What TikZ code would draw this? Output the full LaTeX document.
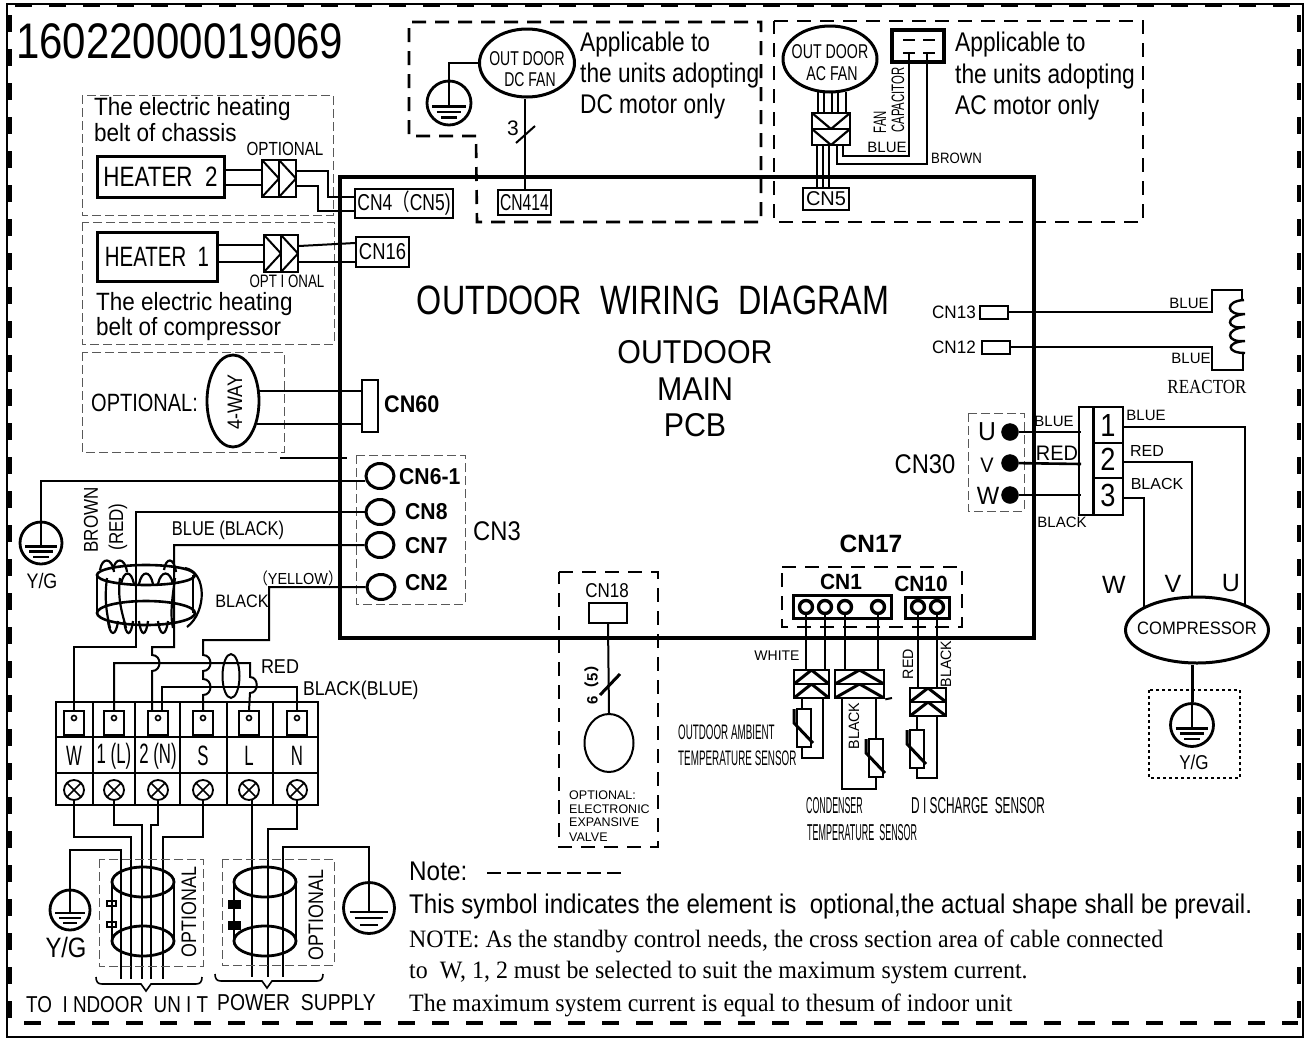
\documentclass[tikz,border=0pt]{standalone}
\usepackage{fontspec}
\usepackage{graphicx}
\setmainfont{Liberation Sans}
\newfontfamily\serifnote{Liberation Serif}
\newfontfamily\cjk{Noto Sans CJK SC}
\usetikzlibrary{shapes.geometric,calc}

\newcommand{\nar}[2]{\scalebox{#1}[1]{#2}}
\newcommand{\fs}[1]{\fontsize{#1}{#1}\selectfont}

\tikzset{
    wire/.style={line width=2pt},
    heavy/.style={line width=3pt},
    pcb/.style={line width=3.4pt},
    thindash/.style={line width=.9pt,gray!70!black,dash pattern=on 9pt off 4pt},
    boldash/.style={line width=2.6pt,dash pattern=on 14pt off 9pt},
    txt/.style={inner sep=0pt,anchor=center},
    cnbox/.style={draw,line width=2pt,inner sep=0pt,minimum height=24pt},
    socket/.style={draw,ellipse,line width=3pt,minimum width=28pt,minimum height=25pt,inner sep=0pt},
    phase/.style={draw,circle,fill=black,minimum size=17pt,inner sep=0pt},
    termlug/.style={draw,line width=2pt,minimum width=20pt,minimum height=24pt,inner sep=0pt},
    earthring/.style={draw,circle,line width=2.8pt,inner sep=0pt},
    pinhole/.style={draw,fill=white,circle,line width=3.4pt,minimum size=13pt,inner sep=0pt},
    screwnode/.style={draw,circle,line width=1.8pt,minimum size=20pt,inner sep=0pt,path picture={
        \draw[line width=1.6pt] (path picture bounding box.south west)--(path picture bounding box.north east);
        \draw[line width=1.6pt] (path picture bounding box.north west)--(path picture bounding box.south east);}},
    plugright/.style={draw,line width=2pt,inner sep=0pt,minimum width=17pt,path picture={
        \draw[line width=2pt] (path picture bounding box.north west)--(path picture bounding box.east)--(path picture bounding box.south west);}},
    plugdown/.style={draw,line width=2.4pt,inner sep=0pt,path picture={
        \draw[line width=2.2pt] (path picture bounding box.north west)--(path picture bounding box.south)--(path picture bounding box.north east);}},
    plugup/.style={draw,line width=2.6pt,inner sep=0pt,path picture={
        \draw[line width=3pt] (path picture bounding box.south west)--(path picture bounding box.north)--(path picture bounding box.south east);}}
}

% earth symbol: ring with stem and three bars
\newcommand{\earth}[3]{%
    \node[earthring,minimum size=#3pt] (#1) at (#2) {};
    \draw[wire] (#1.north) -- ($(#1.center)+(0,.08*#3)$);
    \draw[line width=2.4pt] ($(#1.center)+(-.38*#3,.08*#3)$) -- ($(#1.center)+(.38*#3,.08*#3)$);
    \draw[line width=2.4pt] ($(#1.center)+(-.28*#3,.2*#3)$) -- ($(#1.center)+(.28*#3,.2*#3)$);
    \draw[line width=2.4pt] ($(#1.center)+(-.18*#3,.33*#3)$) -- ($(#1.center)+(.18*#3,.33*#3)$);
}
% thermistor
\newcommand{\therm}[3]{%
    \node[draw,line width=2.4pt,fill=white,minimum width=14pt,minimum height=38pt,inner sep=0pt] (#1) at (#2,#3) {};
    \draw[line width=3pt] (#2-10,#3-19) -- ++(0,14) -- (#2+9,#3+15);
}

\begin{document}
\begin{tikzpicture}[x=1pt,y=-1pt]
    \useasboundingbox (0,0) rectangle (1307,1039);

    % frame
    \draw[line width=2.2pt] (7,4) -- (1303,4) -- (1303,1037) -- (7,1037) -- cycle;
    \draw[line width=4pt,dash pattern=on 17pt off 17pt] (10,15) -- (10,1030);
    \draw[line width=4pt,dash pattern=on 17pt off 17pt] (1299,15) -- (1299,1030);
    \draw[line width=3pt,dash pattern=on 17pt off 17pt] (15,5) -- (1299,5);
    \draw[line width=4pt,dash pattern=on 17pt off 17pt] (24,1023) -- (1298,1023);

    \node[txt,anchor=west] (partno) at (16,41) {\fs{50}\nar{.84}{16022000019069}};

    % main board
    \draw[pcb] (340,177) -- (1034,177) -- (1034,638) -- (340,638) -- cycle;
    \node[txt] (title) at (653,300) {\fs{41}\nar{.788}{OUTDOOR\ \ WIRING\ \ DIAGRAM}};
    \node[txt] (mainA) at (695,352) {\fs{33}\nar{.92}{OUTDOOR}};
    \node[txt] (mainB) at (695,389) {\fs{33}\nar{.92}{MAIN}};
    \node[txt] (mainC) at (695,425) {\fs{33}\nar{.92}{PCB}};

    % dc fan
    \draw[boldash] (476,136) -- (409,136) -- (409,22) -- (761,22) -- (761,222) -- (477,222) -- cycle;
    \node[draw,ellipse,heavy,minimum width=95pt,minimum height=68pt,inner sep=0pt] (dcfan) at (527,63) {};
    \node[txt] (dcfanA) at (527,59) {\fs{20}\nar{.7}{OUT DOOR}};
    \node[txt] (dcfanB) at (530,80) {\fs{20}\nar{.7}{DC FAN}};
    \earth{dcearth}{449,103}{44}
    \draw[wire] (dcearth.north) |- (dcfan.west);
    \node[cnbox,minimum width=53pt,minimum height=25pt] (cn414) at (524.5,202.5) {\fs{23}\nar{.68}{CN414}};
    \draw[wire] (cn414.north) -- (cn414.north |- dcfan.south);
    \draw[wire] (516,143) -- (535,126);
    \node[txt] (dccount) at (513,128) {\fs{21}3};
    \node[txt,anchor=west] (dcnoteA) at (580,45) {\fs{27}\nar{.84}{Applicable to}};
    \node[txt,anchor=west] (dcnoteB) at (580,76) {\fs{27}\nar{.84}{the units adopting}};
    \node[txt,anchor=west] (dcnoteC) at (580,107) {\fs{27}\nar{.84}{DC motor only}};

    % ac fan
    \draw[boldash] (774,21) -- (1143,21) -- (1143,222) -- (774,222) -- cycle;
    \node[draw,ellipse,heavy,minimum width=94pt,minimum height=66pt,inner sep=0pt] (acfan) at (830,59) {};
    \node[txt] (acfanA) at (830,52) {\fs{20}\nar{.71}{OUT DOOR}};
    \node[txt] (acfanB) at (832,74) {\fs{20}\nar{.71}{AC FAN}};
    \foreach \wx in {818,824,832,838,846} \draw[wire] (\wx,92) -- (\wx,113);
    \node[plugdown,minimum width=38pt,minimum height=16pt] (acplugA) at (831,121) {};
    \node[plugdown,minimum width=38pt,minimum height=16pt] (acplugB) at (831,137) {};
    \foreach \wx in {817,823,829} \draw[wire] (\wx,145) -- (\wx,188);
    \node[cnbox,minimum width=46pt,minimum height=22pt] (cn5) at (826,199) {\fs{20}CN5};
    \node[draw,line width=3.2pt,minimum width=52pt,minimum height=32pt,inner sep=0pt] (capbox) at (918,46) {};
    \draw[wire] (903,40) -- (915,40) (923,40) -- (935,40);
    \draw[wire] (903,53) -- (915,53) (923,53) -- (935,53);
    \draw[wire] (909,53) -- (909,156) -- (843,156) -- (843,145);
    \draw[wire] (927,53) -- (927,164) -- (837,164) -- (837,145);
    \node[txt,rotate=90] (capA) at (880,122) {\fs{18}\nar{.63}{FAN}};
    \node[txt,rotate=90] (capB) at (898,100) {\fs{18}\nar{.63}{CAPACITOR}};
    \node[txt] (acblue) at (887,147) {\fs{15}BLUE};
    \node[txt,anchor=west] (acbrown) at (931,158) {\fs{15}\nar{.88}{BROWN}};
    \node[txt,anchor=west] (acnoteA) at (955,45) {\fs{27}\nar{.843}{Applicable to}};
    \node[txt,anchor=west] (acnoteB) at (955,77) {\fs{27}\nar{.843}{the units adopting}};
    \node[txt,anchor=west] (acnoteC) at (955,108) {\fs{27}\nar{.843}{AC motor only}};

    % heaters
    \draw[thindash] (82,95) rectangle (333,215);
    \node[txt,anchor=west] (belt2A) at (94,109) {\fs{25}\nar{.9}{The electric heating}};
    \node[txt,anchor=west] (belt2B) at (94,133) {\fs{25}\nar{.9}{belt of chassis}};
    \node[txt] (opt2) at (285,149) {\fs{19}\nar{.8}{OPTIONAL}};
    \node[draw,heavy,minimum width=127pt,minimum height=41pt,inner sep=0pt] (heater2) at (160.5,176.5) {\fs{28}\nar{.8}{HEATER\ \ 2}};
    \node[plugright,minimum height=37pt] (plug2a) at (270.5,178.5) {};
    \node[plugright,minimum height=37pt] (plug2b) at (287.5,178.5) {};
    \node[cnbox,minimum width=98pt,minimum height=29pt] (cn4) at (404,203.5) {\fs{23}\nar{.76}{CN4{\cjk（}CN5)}};
    \draw[wire] ([yshift=6.5pt]heater2.east) -- ([yshift=8.5pt]plug2a.west);
    \draw[wire] ([yshift=-8.5pt]heater2.east) -- ([yshift=-6.5pt]plug2a.west);
    \draw[wire] ([yshift=7.5pt]plug2b.east) -| (328,197) -- ([yshift=6.5pt]cn4.west);
    \draw[wire] ([yshift=-7.5pt]plug2b.east) -| (318,211) -- ([yshift=-7.5pt]cn4.west);

    \draw[thindash] (82,222) rectangle (334,344);
    \node[draw,heavy,minimum width=120pt,minimum height=49pt,inner sep=0pt] (heater1) at (157,256.5) {\fs{28}\nar{.73}{HEATER\ \ 1}};
    \node[plugright,minimum height=37pt] (plug1a) at (272.5,253.5) {};
    \node[plugright,minimum height=37pt] (plug1b) at (289.5,253.5) {};
    \node[cnbox,minimum width=53pt,minimum height=30pt] (cn16) at (382.5,252) {\fs{23}\nar{.8}{CN16}};
    \draw[wire] ([yshift=11.5pt]heater1.east) -- ([yshift=8.5pt]plug1a.west);
    \draw[wire] ([yshift=-5.5pt]heater1.east) -- ([yshift=-8.5pt]plug1a.west);
    \draw[wire] ([yshift=9pt]cn16.west) -- ([yshift=7.5pt]plug1b.east);
    \draw[wire] ([yshift=-10pt]cn16.west) -- ([yshift=-8.5pt]plug1b.east);
    \node[txt] (opt1) at (287,281) {\fs{18}\nar{.74}{OPT I ONAL}};
    \node[txt,anchor=west] (belt1A) at (96,304) {\fs{25}\nar{.9}{The electric heating}};
    \node[txt,anchor=west] (belt1B) at (96,329) {\fs{25}\nar{.9}{belt of compressor}};

    % four way
    \draw[thindash] (82,352) rectangle (284,452);
    \node[txt,anchor=west] (optway) at (91,403) {\fs{25}\nar{.8}{OPTIONAL:}};
    \node[draw,ellipse,line width=2.8pt,minimum width=52pt,minimum height=92pt,inner sep=0pt] (fourway) at (233,401) {};
    \node[txt,rotate=90] (waytxt) at (235,402) {\fs{21}\nar{.85}{4-WAY}};
    \node[draw,line width=2.6pt,minimum width=16pt,minimum height=52pt,inner sep=0pt] (cn60) at (370,406) {};
    \node[txt,anchor=west] (cn60txt) at (384,404) {\fs{24}\nar{.9}{\bfseries CN60}};
    \draw[wire] ([yshift=15pt]cn60.west) -- (259,391);
    \draw[wire] ([yshift=-18pt]cn60.west) -- (257,424);
    \draw[wire] (280,458) -- (347,458);

    % cn3 group
    \draw[thindash] (356,455) rectangle (465,604);
    \node[socket] (cn61) at (380,476) {};
    \node[socket] (cn8) at (380,512) {};
    \node[socket] (cn7) at (380,545) {};
    \node[socket] (cn2) at (381,587) {};
    \node[txt,anchor=west] (cn61txt) at (399,477) {\fs{23}\nar{.92}{\bfseries CN6-1}};
    \node[txt,anchor=west] (cn8txt) at (405,512) {\fs{23}\nar{.92}{\bfseries CN8}};
    \node[txt,anchor=west] (cn7txt) at (405,546) {\fs{23}\nar{.92}{\bfseries CN7}};
    \node[txt,anchor=west] (cn2txt) at (405,583) {\fs{23}\nar{.92}{\bfseries CN2}};
    \node[txt] (cn3txt) at (497,531) {\fs{27}\nar{.88}{CN3}};

    \earth{gndleft}{41,543}{42}
    \node[txt] (gndlefttxt) at (42,581) {\fs{21}\nar{.85}{Y/G}};
    \draw[wire] (gndleft.north) |- ([yshift=-5pt]cn61.west);

    % terminal block
    \draw[wire] (56,702) rectangle (318,805);
    \draw[wire] (56,737) -- (318,737) (56,773) -- (318,773);
    \foreach \bx in {93,135,180,227,273} \draw[wire] (\bx,702) -- (\bx,805);
    \foreach \nm/\tx/\lab in {w/74/W,l/114/{1 (L)},n/158/{2 (N)},s/203/S,ll/249/L,nn/297/N}{
        \node[termlug] (lug\nm) at (\tx,723) {};
        \draw[line width=1.6pt] (\tx,718) circle (2.5pt);
        \node[txt] (lab\nm) at (\tx,756) {\fs{28}\nar{.6}{\lab}};
        \node[screwnode] (screw\nm) at (\tx,790) {};
    }

    % choke and its wires
    \draw[wire] (cn8.west) -- (136,512) -- (136,647) -- (74,647) -- (lugw.north);
    \draw[wire] (cn7.west) -- (174,545) -- (174,647) -- (152,647) -- (152,655) .. controls (162,655) and (162,671) .. (152,671) -- ([xshift=-6pt]lugn.north);
    \draw[wire] (cn2.west) -- (269,587) -- (269,640) -- (203,640) -- (203,655) .. controls (213,655) and (213,671) .. (203,671) -- (203,679) .. controls (213,679) and (213,695) .. (203,695) -- (lugs.north);
    \draw[wire] (lugl.north) -- (114,663) -- (250,663) -- (250,677) .. controls (259,677) and (259,693) .. (250,693) -- (lugll.north);
    \draw[wire] ([xshift=4pt]lugn.north) -- (162,687) -- (297,687) -- (lugnn.north);
    \node[draw,ellipse,wire,minimum width=17pt,minimum height=44pt,inner sep=0pt] (ringcm) at (231,676) {};

    \draw[line width=2.6pt] (146,575) ellipse (49pt and 10pt);
    \draw[line width=2.6pt] (146,613) ellipse (49pt and 12pt);
    \draw[line width=2.4pt] (97,575) -- (97,613) (193,575) -- (193,613);
    % turns of the coil
    \foreach \ta/\tb in {107/110,120/126,175/173}
        \draw[line width=2.2pt] (\ta,578) .. controls (\ta-3,600) and (\tb-3,615) .. (\tb,628);
    \foreach \ha/\hb in {100/114,113/127,164/176}
        \draw[line width=2.2pt] (\ha,570) .. controls (\ha+2,557) and (\hb-2,557) .. (\hb,572);
    \foreach \ha/\hb in {121/134,139/153,158/173}
        \draw[line width=2.2pt] (\ha,584) .. controls (\ha+3,570) and (\hb-3,570) .. (\hb,584);
    \foreach \ha/\hb in {108/118,124/133,139/148,158/168}
        \draw[line width=2.2pt] (\ha,621) .. controls (\ha+2,637) and (\hb-2,637) .. (\hb,621);
    \draw[line width=2.2pt] (185,568) .. controls (207,572) and (207,612) .. (187,627);

    \node[txt,rotate=90] (brown) at (91,520) {\fs{20}\nar{.85}{BROWN}};
    \node[txt,rotate=90] (redb) at (118,527) {\fs{20}\nar{.85}{(RED)}};
    \node[txt] (blueblack) at (228,530) {\fs{20}\nar{.82}{BLUE (BLACK)}};
    \node[txt] (yellow) at (298,578) {\fs{16}\nar{.9}{\cjk（\rmfamily YELLOW\cjk）}};
    \node[txt] (blackc) at (242,601) {\fs{18}\nar{.9}{BLACK}};
    \node[txt] (redd) at (280,667) {\fs{20}\nar{.9}{RED}};
    \node[txt,anchor=west] (blackblue) at (303,690) {\fs{20}\nar{.88}{BLACK(BLUE)}};

    % leads below the block
    \coordinate (unitA) at (121,979);
    \coordinate (unitB) at (131,979);
    \coordinate (unitC) at (142,979);
    \coordinate (unitD) at (151,979);
    \coordinate (unitE) at (163,979);
    \coordinate (powerA) at (252,977);
    \coordinate (powerB) at (268,977);
    \coordinate (powerC) at (283,977);
    \draw[wire] (screww.south) -- (74,837) -| (unitB);
    \draw[wire] (screwl.south) -- (114,825) -| (unitC);
    \draw[wire] (screwn.south) -- (158,825) -| (unitD);
    \draw[wire] (screws.south) -- (203,837) -| (unitE);
    \draw[wire] (252,799.5) -- (powerA);
    \draw[wire] (screwnn.south) -- (297,829) -| (powerB);
    \earth{gndunit}{70,910}{40}
    \draw[wire] (gndunit.north) |- (121,850) -- (unitA);
    \node[txt] (gndunittxt) at (66,947) {\fs{28}\nar{.85}{Y/G}};
    \earth{gndpower}{369,908}{51}
    \draw[wire] (gndpower.north) |- (283,847) -- (powerC);

    % ferrite rings
    \draw[thindash,line width=.7pt] (99,859) rectangle (203,966);
    \draw[thindash,line width=.7pt] (222,859) rectangle (334,965);
    \foreach \fx in {143,265}{
        \draw[line width=2.8pt] (\fx,882) ellipse (31pt and 15pt);
        \draw[line width=2.8pt] (\fx,941) ellipse (31pt and 15pt);
        \draw[line width=2.4pt] (\fx-31,882) -- (\fx-31,941) (\fx+31,882) -- (\fx+31,941);
    }
    \draw[line width=1.4pt] (107,901) rectangle (116,906) (107,922) rectangle (116,927);
    \draw[line width=2pt,fill=black] (229,901) rectangle (240,908) (229,922) rectangle (240,929);
    \node[txt,rotate=90] (optunit) at (189,912) {\fs{21}\nar{.85}{OPTIONAL}};
    \node[txt,rotate=90] (optpower) at (316,915) {\fs{21}\nar{.85}{OPTIONAL}};
    \draw[line width=1.6pt] (96,977) .. controls (96,982) and (98,984) .. (102,984) -- (141,984) -- (146,991) -- (151,984) -- (196,984) .. controls (200,984) and (202,982) .. (202,977);
    \draw[line width=1.6pt] (215,974) .. controls (215,979) and (217,981) .. (221,981) -- (262,981) -- (267,988) -- (272,981) -- (317,981) .. controls (321,981) and (323,979) .. (323,974);
    \node[txt,anchor=west] (toindoor) at (26,1005) {\fs{23}\nar{.82}{TO\ \ I NDOOR\ \ UN I T}};
    \node[txt,anchor=west] (powersup) at (217,1003) {\fs{23}\nar{.84}{POWER\ \ SUPPLY}};

    % electronic expansive valve
    \draw[boldash,line width=2.4pt] (559,572) -- (658,572) -- (658,847) -- (559,847) -- cycle;
    \node[txt] (cn18txt) at (607,591) {\fs{20}\nar{.85}{CN18}};
    \node[draw,wire,minimum width=38pt,minimum height=20pt,inner sep=0pt] (cn18) at (608,613) {};
    \node[draw,ellipse,wire,minimum width=49pt,minimum height=58pt,inner sep=0pt] (eev) at (609,743) {};
    \draw[wire] (cn18.south) -- (eev.north);
    \draw[line width=3pt] (600,695) -- (620,674);
    \node[txt,rotate=90] (eevcount) at (592,681) {\fs{15}\bfseries 6{\cjk（}5{\cjk）}};
    \node[txt,anchor=west] (eevA) at (569,795) {\fs{12.5}OPTIONAL:};
    \node[txt,anchor=west] (eevB) at (569,809) {\fs{12.5}ELECTRONIC};
    \node[txt,anchor=west] (eevC) at (569,822) {\fs{12.5}EXPANSIVE};
    \node[txt,anchor=west] (eevD) at (569,837) {\fs{12.5}VALVE};

    % cn17
    \node[txt] (cn17txt) at (871,544) {\fs{25}\nar{.98}{\bfseries CN17}};
    \draw[boldash,line width=2.4pt] (782,567) -- (962,567) -- (962,627) -- (782,627) -- cycle;
    \node[txt] (cn1txt) at (841,582) {\fs{22}\nar{.95}{\bfseries CN1}};
    \node[txt] (cn10txt) at (921,584) {\fs{22}\nar{.95}{\bfseries CN10}};
    \node[draw,line width=3pt,fill=white,minimum width=98pt,minimum height=23pt,inner sep=0pt] (cn1bar) at (842,606.5) {};
    \node[draw,line width=3pt,fill=white,minimum width=44pt,minimum height=21pt,inner sep=0pt] (cn10bar) at (927,607.5) {};
    \foreach \cnx/\cnm in {806/a,825/b,845/c,878/d,918/e,937/f}
        \node[pinhole] (pin\cnm) at (\cnx,607) {};
    % sensor plugs
    \node[plugup,minimum width=35pt,minimum height=14pt] (plugAa) at (811.5,677) {};
    \node[plugup,minimum width=35pt,minimum height=14pt] (plugAb) at (811.5,691) {};
    \node[plugup,minimum width=49pt,minimum height=14pt] (plugBa) at (859.5,677) {};
    \node[plugup,minimum width=49pt,minimum height=14pt] (plugBb) at (859.5,691) {};
    \node[plugup,minimum width=36pt,minimum height=14pt] (plugCa) at (928,695) {};
    \node[plugup,minimum width=36pt,minimum height=14pt] (plugCb) at (928,709) {};
    \foreach \pn/\pl in {a/plugAa,b/plugAa,c/plugBa,d/plugBa,e/plugCa,f/plugCa}
        \draw[line width=2.6pt] (pin\pn.south) -- (pin\pn.south |- \pl.north);
    \draw[wire] (plugBb.south east) -- (892,698);
    \therm{thermA}{804}{728}
    \therm{thermB}{876}{758}
    \therm{thermC}{917}{749}
    \draw[wire] (802,698) -- (802,709);
    \draw[wire] (802,748) -- (802,758) -- (823,758) -- (823,698);
    \draw[wire] (842,698) -- (842,789) -- (876,789) -- (thermB.south);
    \draw[wire] (876,698) -- (thermB.north);
    \draw[wire] (917,716) -- (thermC.north);
    \draw[wire] (thermC.south) -- (917,778) -- (937,778) -- (937,716);
    \node[txt] (white) at (777,656) {\fs{14}WHITE};
    \node[txt,rotate=90] (rede) at (908,664) {\fs{15}\nar{.95}{RED}};
    \node[txt,rotate=90] (blackf) at (946,664) {\fs{15}\nar{.95}{BLACK}};
    \node[txt,rotate=90] (blackg) at (854,726) {\fs{15}\nar{.95}{BLACK}};
    \node[txt,anchor=west] (ambA) at (678,732) {\fs{21}\nar{.467}{OUTDOOR AMBIENT}};
    \node[txt,anchor=west] (ambB) at (678,758) {\fs{21}\nar{.47}{TEMPERATURE SENSOR}};
    \node[txt,anchor=west] (condA) at (806,806) {\fs{23}\nar{.385}{CONDENSER}};
    \node[txt,anchor=west] (condB) at (807,833) {\fs{23}\nar{.39}{TEMPERATURE\ \ SENSOR}};
    \node[txt,anchor=west] (disch) at (911,806) {\fs{23}\nar{.515}{D I SCHARGE\ \ SENSOR}};

    % reactor
    \node[draw,wire,minimum width=28pt,minimum height=13pt,inner sep=0pt] (cn13) at (994,312) {};
    \node[draw,wire,minimum width=28pt,minimum height=13pt,inner sep=0pt] (cn12) at (996,347) {};
    \node[txt,anchor=east] (cn13txt) at (976,312) {\fs{18}\nar{.95}{CN13}};
    \node[txt,anchor=east] (cn12txt) at (976,347) {\fs{18}\nar{.95}{CN12}};
    \draw[wire] (cn13.east) -- (1212,312) -- (1212,290) -- (1242,290) -- (1242,300);
    \draw[wire] (cn12.east) -- (1212,347) -- (1212,370) -- (1243,370) -- (1243,353);
    \draw[line width=2.4pt] (1244,300) .. controls (1224,301) and (1226,316) .. (1245,314)
        .. controls (1224,316) and (1226,330) .. (1245,327)
        .. controls (1224,329) and (1226,343) .. (1245,341)
        .. controls (1226,342) and (1226,353) .. (1245,353);
    \node[txt] (reactA) at (1189,303) {\fs{15}BLUE};
    \node[txt] (reactB) at (1191,358) {\fs{15}BLUE};
    \node[txt] (reacttxt) at (1207,387) {\fs{20}\serifnote\nar{.85}{REACTOR}};

    % cn30
    \draw[thindash] (968,413) rectangle (1024,511);
    \node[txt] (cn30txt) at (925,464) {\fs{27}\nar{.88}{CN30}};
    \node[phase] (phaseu) at (1010,432) {};
    \node[phase] (phasev) at (1010,463) {};
    \node[phase] (phasew) at (1010,495) {};
    \node[txt] (phuA) at (987,432) {\fs{26}\nar{.95}{U}};
    \node[txt] (phvA) at (987,465) {\fs{21}\nar{.95}{V}};
    \node[txt] (phwA) at (988,496) {\fs{25}\nar{.95}{W}};
    \draw[line width=2.6pt] (1079,407) rectangle (1123,515);
    \draw[line width=3pt] (1093,407) -- (1093,515);
    \draw[line width=2.8pt] (1093,443) -- (1123,443) (1093,478) -- (1123,478);
    \draw[line width=2.6pt] (phaseu) -- (1081,432);
    \draw[line width=2.6pt] (phasev) -- (1081,464);
    \draw[line width=2.6pt] (phasew) -- (1081,495);
    \node[txt] (numA) at (1108,425) {\fs{32}\nar{.85}{1}};
    \node[txt] (numB) at (1108,459) {\fs{32}\nar{.85}{2}};
    \node[txt] (numC) at (1108,495) {\fs{32}\nar{.85}{3}};
    \node[txt] (wireU) at (1054,421) {\fs{15}BLUE};
    \node[txt] (wireV) at (1057,453) {\fs{21}\nar{.95}{RED}};
    \node[txt] (wireW) at (1062,522) {\fs{15}BLACK};
    \node[txt] (leadU) at (1146,415) {\fs{15}BLUE};
    \node[txt] (leadV) at (1147,451) {\fs{16}RED};
    \node[txt] (leadW) at (1157,484) {\fs{16}BLACK};

    % compressor
    \node[draw,ellipse,line width=3pt,minimum width=143pt,minimum height=66pt,inner sep=0pt] (comp) at (1197,630) {};
    \node[txt] (comptxt) at (1197,628) {\fs{18}\nar{.92}{COMPRESSOR}};
    \draw[wire] (1123,427) -- (1245,427) -- (1245,606);
    \draw[wire] (1123,462) -- (1192,462) -- (1192,597);
    \draw[wire] (1123,498) -- (1144,498) -- (1144,607);
    \node[txt] (compW) at (1114,585) {\fs{25}W};
    \node[txt] (compV) at (1173,584) {\fs{25}V};
    \node[txt] (compU) at (1231,583) {\fs{25}U};
    \draw[line width=2.6pt,dash pattern=on 3pt off 3pt] (1149,690) rectangle (1240,778);
    \earth{gndcomp}{1192,725}{43}
    \draw[line width=3pt] (gndcomp.north) -- (gndcomp.north |- comp.south);
    \node[txt] (gndcomptxt) at (1194,762) {\fs{20}\nar{.85}{Y/G}};

    % notes
    \node[txt,anchor=west] (note) at (409,871) {\fs{27}\nar{.9}{Note:}};
    \draw[line width=2.4pt,dash pattern=on 14pt off 6pt] (487,873) -- (622,873);
    \node[txt,anchor=west] (noteA) at (409,907) {\fs{27}\nar{.893}{This symbol indicates the element is\ \ optional,the actual shape shall be prevail.}};
    \node[txt,anchor=west] (noteB) at (409,941) {\fs{25}\serifnote\nar{.957}{NOTE: As the standby control needs, the cross section area of cable connected}};
    \node[txt,anchor=west] (noteC) at (409,973) {\fs{25}\serifnote\nar{.957}{to\ \ W, 1, 2 must be selected to suit the maximum system current.}};
    \node[txt,anchor=west] (noteD) at (409,1005) {\fs{25}\serifnote\nar{.957}{The maximum system current is equal to thesum of indoor unit}};
\end{tikzpicture}
\end{document}
